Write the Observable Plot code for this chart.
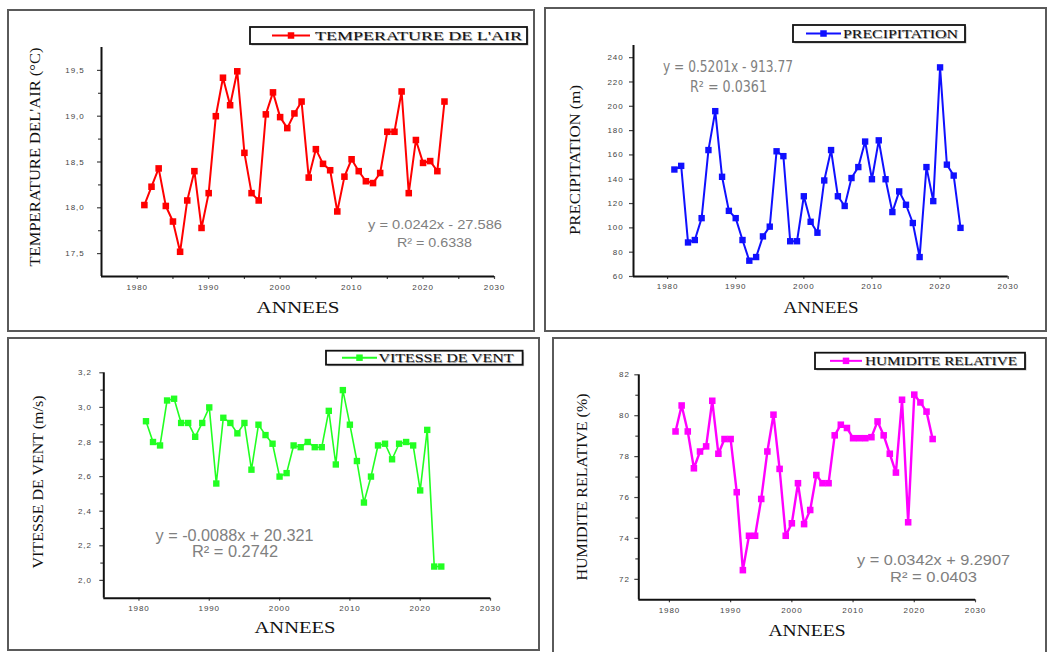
<!DOCTYPE html>
<html><head><meta charset="utf-8">
<script src="https://cdn.jsdelivr.net/npm/d3@7"></script>
<script src="https://cdn.jsdelivr.net/npm/@observablehq/plot@0.6"></script>
<style>
body{margin:0;background:#fff;}
#root{position:relative;width:1051px;height:652px;overflow:hidden;background:#fff;}
.pborder{position:absolute;border:2px solid #5a5a5a;box-sizing:border-box;pointer-events:none;}
#root svg{position:absolute;}
</style>
</head><body><div id="root"></div>
<script>
// ---------- data ----------
const years = [1981,1982,1983,1984,1985,1986,1987,1988,1989,1990,1991,1992,1993,1994,1995,1996,1997,1998,1999,2000,
  2001,2002,2003,2004,2005,2006,2007,2008,2009,2010,2011,2012,2013,2014,2015,2016,2017,2018,2019,2020,2021,2022,2023];
const temperature = [18.03,18.23,18.43,18.02,17.85,17.52,18.08,18.40,17.78,18.16,19.00,19.42,19.12,19.49,18.60,18.16,18.08,19.02,19.26,18.99,
  18.87,19.03,19.16,18.33,18.64,18.48,18.41,17.96,18.34,18.53,18.40,18.29,18.27,18.38,18.83,18.83,19.27,18.16,18.74,18.49,18.51,18.40,19.16];
const precipitation = [148,151,88,90,108,164,196,142,114,108,90,73,76,93,101,163,159,89,89,126,
  105,96,139,164,126,118,141,150,171,140,172,140,113,130,119,104,76,150,122,232,152,143,100];
const windSpeed = [2.92,2.80,2.78,3.04,3.05,2.91,2.91,2.83,2.91,3.00,2.56,2.94,2.91,2.85,2.91,2.64,2.90,2.84,2.79,2.60,
  2.62,2.78,2.77,2.80,2.77,2.77,2.98,2.67,3.10,2.90,2.69,2.45,2.60,2.78,2.79,2.70,2.79,2.80,2.78,2.52,2.87,2.08,2.08];
const humidity = [79.23,80.5,79.23,77.43,78.25,78.5,80.73,78.14,78.86,78.86,76.26,72.45,74.13,74.13,75.93,78.25,80.05,77.4,74.13,74.74,
  76.7,74.7,75.39,77.1,76.7,76.7,79.04,79.56,79.4,78.9,78.9,78.9,78.95,79.72,79.04,78.14,77.22,80.78,74.79,81.03,80.65,80.2,78.86];

const xTicks = [1980,1990,2000,2010,2020,2030];
const xMinorTicks = [1985,1995,2005,2015,2025];
const tempTicks = [17.5,18.0,18.5,19.0,19.5];
const tempMinor = [17.75,18.25,18.75,19.25];
const precipTicks = [60,80,100,120,140,160,180,200,220,240];
const windTicks = [2.0,2.2,2.4,2.6,2.8,3.0,3.2];
const windMinor = [2.1,2.3,2.5,2.7,2.9,3.1];
const humTicks = [72,74,76,78,80,82];
const humMinor = [73,75,77,79,81];

const seriesNames = ["TEMPERATURE DE L'AIR","PRECIPITATION","VITESSE DE VENT","HUMIDITE RELATIVE"];
const yTitles = ["TEMPERATURE DEL'AIR (°C)","PRECIPITATION (m)","VITESSE DE VENT (m/s)","HUMIDITE RELATIVE (%)"];
const equations = [["y = 0.0242x - 27.586","R² = 0.6338"],["y = 0.5201x - 913.77","R² = 0.0361"],
  ["y = -0.0088x + 20.321","R² = 0.2742"],["y = 0.0342x + 9.2907","R² = 0.0403"]];
const xTitle = "ANNEES";

const comma1 = d => d.toFixed(1).replace(".", ",");
const plain = d => String(d);

// ---------- layout (absolute page px) ----------
const panels = [
  {values: temperature, color:"#ff0000", box:[7,9,528,323], frame:[101,47,494,276], yDomain:[17.25,19.75],
   yTicks: tempTicks, yMinor: tempMinor, xMinor: xMinorTicks, fmt: comma1, ypad:13, xpad:5, sw:2, r:3.7,
   yT:{cx:35, cy:157, len:219, size:15}, xT:{cx:298, cy:307, len:83, size:17},
   leg:{x0:250, y0:27, x1:527, y1:44, l0:272, l1:310, tx:315, tlen:207},
   eq:[{cx:435, cy:224, len:134, size:13},{cx:434.5, cy:242, len:75, size:13}], eqFont:"Liberation Sans"},
  {values: precipitation, color:"#1010ff", box:[544,7,503,325], frame:[633,45,1007.7,276], yDomain:[60,250],
   yTicks: precipTicks, yMinor: [], xMinor: [], fmt: plain, ypad:6, xpad:4, sw:2, r:3.6,
   yT:{cx:575, cy:160, len:150, size:15}, xT:{cx:821, cy:307, len:75, size:17},
   leg:{x0:793, y0:25, x1:965, y1:42, l0:806, l1:841, tx:843, tlen:115},
   eq:[{cx:728, cy:66, len:130, size:16},{cx:728.5, cy:86.7, len:77, size:16}], eqFont:"Liberation Sans Narrow, DejaVu Sans Condensed, Liberation Sans"},
  {values: windSpeed, color:"#22ff22", box:[7,337,533,314], frame:[103.3,372.3,490,597.7], yDomain:[1.897,3.2],
   yTicks: windTicks, yMinor: windMinor, xMinor: [], fmt: comma1, ypad:8, xpad:4.5, sw:1.6, r:3.6,
   yT:{cx:38, cy:482, len:173, size:14}, xT:{cx:295, cy:627.7, len:81, size:17},
   leg:{x0:326, y0:350.7, x1:522.6, y1:364.7, l0:342, l1:377, tx:378.5, tlen:135},
   eq:[{cx:234.5, cy:535.7, len:158, size:16},{cx:235, cy:551.7, len:86, size:16}], eqFont:"Liberation Sans"},
  {values: humidity, color:"#ff00ff", box:[552,337,495,318], frame:[638.3,374.3,975,599.3], yDomain:[71,82],
   yTicks: humTicks, yMinor: humMinor, xMinor: [], fmt: plain, ypad:5, xpad:5, sw:2.4, r:3.7,
   yT:{cx:582, cy:487, len:187, size:14}, xT:{cx:807, cy:630, len:77, size:17},
   leg:{x0:815, y0:352.7, x1:1025, y1:369, l0:830, l1:862, tx:865, tlen:152},
   eq:[{cx:933.5, cy:560, len:153, size:15},{cx:933.5, cy:576.7, len:87, size:15}], eqFont:"Liberation Sans"}
];

const root = document.getElementById("root");

panels.forEach((p, k) => {
  const [L, T, W, H] = p.box;
  const [fx0, fy0, fx1, fy1] = p.frame;
  const data = years.map((yr, i) => ({year: yr, value: p.values[i]}));
  const axisStyle = {fontSize: 8, color: "#444", strokeWidth: 1.2};
  const marks = [
    Plot.axisY(p.yTicks, {...axisStyle, tickSize: 4, tickPadding: p.ypad, tickFormat: p.fmt, label: null}),
    Plot.axisX(xTicks, {...axisStyle, tickSize: 3, tickPadding: p.xpad, tickFormat: plain, label: null}),
  ];
  if (p.yMinor.length) marks.push(Plot.axisY(p.yMinor, {...axisStyle, tickSize: 3, tickFormat: () => "", label: null}));
  if (p.xMinor.length) marks.push(Plot.axisX(p.xMinor, {...axisStyle, tickSize: 3, tickFormat: () => "", label: null}));
  marks.push(
    Plot.ruleX([1975], {stroke: "#111", strokeWidth: 2}),
    Plot.ruleY([p.yDomain[0]], {stroke: "#111", strokeWidth: 2}),
    Plot.line(data, {x: "year", y: "value", stroke: p.color, strokeWidth: p.sw}),
    Plot.dot(data, {x: "year", y: "value", symbol: "square", r: p.r, fill: p.color, stroke: "none"})
  );
  const svg = Plot.plot({
    width: W, height: H,
    marginLeft: fx0 - L, marginRight: L + W - fx1, marginTop: fy0 - T, marginBottom: T + H - fy1,
    x: {domain: [1975, 2030]},
    y: {domain: p.yDomain},
    style: {background: "#fff", fontFamily: "Liberation Sans, Arial, sans-serif", letterSpacing: "0.9px", overflow: "visible"},
    marks
  });
  svg.style.left = L + "px";
  svg.style.top = T + "px";
  svg.style.maxWidth = "none";
  root.appendChild(svg);

  const g = d3.select(svg).append("g").attr("transform", `translate(${-L},${-T})`).style("letter-spacing", "0px");
  // y title
  g.append("text").text(yTitles[k])
    .attr("transform", `translate(${p.yT.cx},${p.yT.cy}) rotate(-90)`)
    .attr("text-anchor", "middle").attr("dy", "0.34em")
    .attr("font-family", "Liberation Serif, Times New Roman, serif").attr("font-size", p.yT.size)
    .attr("fill", "#111").attr("textLength", p.yT.len).attr("lengthAdjust", "spacingAndGlyphs");
  // x title
  g.append("text").text(xTitle)
    .attr("x", p.xT.cx).attr("y", p.xT.cy).attr("dy", "0.34em").attr("text-anchor", "middle")
    .attr("font-family", "Liberation Serif, Times New Roman, serif").attr("font-size", p.xT.size)
    .attr("fill", "#111").attr("textLength", p.xT.len).attr("lengthAdjust", "spacingAndGlyphs");
  // legend
  const lg = p.leg, ly = (lg.y0 + lg.y1) / 2;
  g.append("rect").attr("x", lg.x0 + 1.5).attr("y", lg.y0 + 1.5).attr("width", lg.x1 - lg.x0).attr("height", lg.y1 - lg.y0)
    .attr("fill", "#bbb").attr("stroke", "none");
  g.append("rect").attr("x", lg.x0).attr("y", lg.y0).attr("width", lg.x1 - lg.x0).attr("height", lg.y1 - lg.y0)
    .attr("fill", "#fff").attr("stroke", "#111").attr("stroke-width", 1.8);
  g.append("line").attr("x1", lg.l0).attr("x2", lg.l1).attr("y1", ly).attr("y2", ly)
    .attr("stroke", p.color).attr("stroke-width", 2);
  const ms = 6.5, mcx = (lg.l0 + lg.l1) / 2;
  g.append("rect").attr("x", mcx - ms / 2).attr("y", ly - ms / 2).attr("width", ms).attr("height", ms).attr("fill", p.color);
  g.append("text").text(seriesNames[k])
    .attr("x", lg.tx + 0.8).attr("y", ly + 0.8).attr("dy", "0.34em").attr("text-anchor", "start")
    .attr("font-family", "Liberation Serif, Times New Roman, serif").attr("font-size", 13)
    .attr("fill", "#999").attr("textLength", lg.tlen).attr("lengthAdjust", "spacingAndGlyphs");
  g.append("text").text(seriesNames[k])
    .attr("x", lg.tx).attr("y", ly).attr("dy", "0.34em").attr("text-anchor", "start")
    .attr("font-family", "Liberation Serif, Times New Roman, serif").attr("font-size", 13)
    .attr("fill", "#111").attr("textLength", lg.tlen).attr("lengthAdjust", "spacingAndGlyphs");
  // regression equation
  p.eq.forEach((e, j) => {
    g.append("text").text(equations[k][j])
      .attr("x", e.cx).attr("y", e.cy).attr("dy", "0.36em").attr("text-anchor", "middle")
      .attr("font-family", p.eqFont).attr("font-size", e.size)
      .attr("fill", "#808080").attr("textLength", e.len).attr("lengthAdjust", "spacingAndGlyphs");
  });

  const b = document.createElement("div");
  b.className = "pborder";
  Object.assign(b.style, {left: L + "px", top: T + "px", width: W + "px", height: H + "px"});
  root.appendChild(b);
});
</script>
</body></html>
